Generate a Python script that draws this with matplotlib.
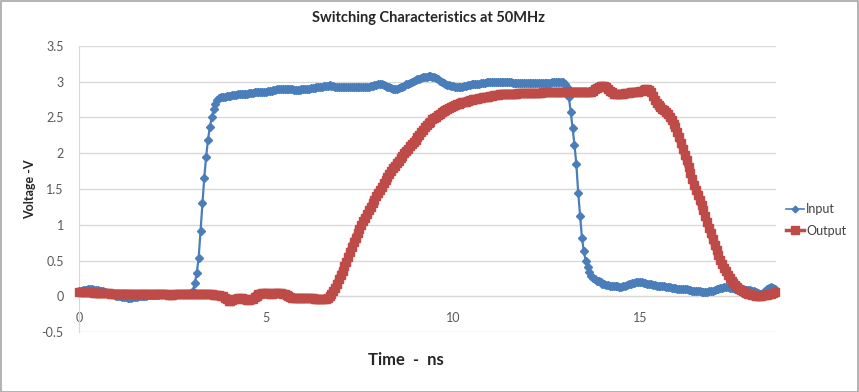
import numpy as np
import matplotlib
matplotlib.use('Agg')
import matplotlib.pyplot as plt
from matplotlib.patches import Rectangle
from matplotlib.ticker import FuncFormatter

plt.rcParams['font.family'] = ['Lato', 'DejaVu Sans']

# scope samples, one every 0.05 ns
t_step = 0.05

input_v = [
    0.08, 0.08, 0.09, 0.09, 0.09, 0.10, 0.10, 0.10, 0.09, 0.09, 0.09, 0.08, 0.08, 0.07, 0.06, 0.05, 0.04, 0.04, 0.03, 0.02,
    0.01, 0.00, 0.00, -0.01, -0.01, -0.01, -0.02, -0.02, -0.02, -0.01, -0.01, -0.01, 0.00, 0.00, 0.01, 0.01, 0.01, 0.02, 0.02, 0.02,
    0.02, 0.02, 0.02, 0.03, 0.03, 0.03, 0.03, 0.03, 0.03, 0.04, 0.04, 0.04, 0.04, 0.04, 0.03, 0.03, 0.03, 0.03, 0.03, 0.04,
    0.05, 0.08, 0.19, 0.33, 0.54, 0.92, 1.30, 1.66, 1.95, 2.19, 2.37, 2.50, 2.61, 2.69, 2.74, 2.77, 2.78, 2.79, 2.79, 2.80,
    2.80, 2.80, 2.81, 2.81, 2.81, 2.82, 2.82, 2.82, 2.83, 2.83, 2.83, 2.84, 2.84, 2.84, 2.85, 2.85, 2.85, 2.85, 2.86, 2.86,
    2.86, 2.87, 2.87, 2.87, 2.88, 2.88, 2.89, 2.89, 2.89, 2.90, 2.90, 2.90, 2.89, 2.89, 2.89, 2.88, 2.88, 2.88, 2.88, 2.89,
    2.89, 2.89, 2.90, 2.90, 2.91, 2.91, 2.91, 2.92, 2.92, 2.93, 2.93, 2.94, 2.94, 2.94, 2.95, 2.94, 2.94, 2.93, 2.93, 2.93,
    2.92, 2.92, 2.92, 2.92, 2.92, 2.92, 2.92, 2.92, 2.92, 2.92, 2.92, 2.93, 2.93, 2.93, 2.93, 2.93, 2.94, 2.94, 2.95, 2.95,
    2.96, 2.96, 2.96, 2.95, 2.94, 2.93, 2.92, 2.91, 2.90, 2.90, 2.90, 2.91, 2.92, 2.93, 2.94, 2.96, 2.97, 2.98, 2.99, 3.01,
    3.02, 3.03, 3.04, 3.05, 3.06, 3.07, 3.07, 3.08, 3.08, 3.07, 3.06, 3.05, 3.03, 3.01, 2.99, 2.98, 2.96, 2.95, 2.95, 2.94,
    2.94, 2.93, 2.93, 2.93, 2.93, 2.93, 2.94, 2.94, 2.95, 2.95, 2.96, 2.96, 2.97, 2.97, 2.97, 2.98, 2.98, 2.98, 2.99, 2.99,
    2.99, 3.00, 3.00, 3.00, 3.00, 3.00, 2.99, 2.99, 2.99, 2.99, 2.99, 2.99, 2.98, 2.98, 2.98, 2.98, 2.98, 2.98, 2.98, 2.98,
    2.98, 2.98, 2.98, 2.98, 2.98, 2.98, 2.98, 2.98, 2.98, 2.98, 2.98, 2.98, 2.98, 2.99, 2.99, 2.99, 3.00, 3.00, 3.00, 2.99,
    2.97, 2.92, 2.78, 2.58, 2.35, 2.12, 1.85, 1.45, 1.13, 0.82, 0.63, 0.50, 0.41, 0.34, 0.29, 0.26, 0.24, 0.22, 0.21, 0.20,
    0.18, 0.17, 0.16, 0.16, 0.15, 0.15, 0.14, 0.14, 0.14, 0.13, 0.13, 0.14, 0.15, 0.16, 0.17, 0.18, 0.19, 0.19, 0.20, 0.20,
    0.20, 0.20, 0.19, 0.19, 0.18, 0.18, 0.17, 0.16, 0.16, 0.15, 0.15, 0.14, 0.14, 0.14, 0.13, 0.13, 0.13, 0.12, 0.12, 0.12,
    0.11, 0.11, 0.11, 0.10, 0.10, 0.10, 0.09, 0.09, 0.08, 0.08, 0.08, 0.07, 0.07, 0.06, 0.06, 0.06, 0.06, 0.07, 0.07, 0.08,
    0.09, 0.10, 0.11, 0.12, 0.12, 0.13, 0.13, 0.13, 0.12, 0.12, 0.12, 0.11, 0.11, 0.10, 0.10, 0.10, 0.09, 0.09, 0.09, 0.09,
    0.08, 0.07, 0.06, 0.05, 0.04, 0.04, 0.05, 0.07, 0.10, 0.12, 0.13, 0.12, 0.10,
]

output_v = [
    0.06, 0.06, 0.06, 0.06, 0.06, 0.06, 0.06, 0.06, 0.05, 0.05, 0.05, 0.05, 0.05, 0.05, 0.05, 0.05, 0.05, 0.04, 0.04, 0.04,
    0.04, 0.04, 0.04, 0.04, 0.04, 0.04, 0.03, 0.03, 0.03, 0.03, 0.03, 0.03, 0.03, 0.03, 0.03, 0.03, 0.03, 0.03, 0.03, 0.03,
    0.03, 0.03, 0.03, 0.03, 0.03, 0.03, 0.03, 0.03, 0.02, 0.02, 0.02, 0.03, 0.03, 0.03, 0.03, 0.03, 0.03, 0.03, 0.03, 0.03,
    0.03, 0.03, 0.03, 0.03, 0.03, 0.03, 0.03, 0.03, 0.03, 0.03, 0.03, 0.03, 0.02, 0.02, 0.02, 0.02, 0.01, 0.00, -0.02, -0.04,
    -0.06, -0.06, -0.05, -0.04, -0.03, -0.02, -0.02, -0.02, -0.03, -0.04, -0.05, -0.05, -0.04, -0.03, -0.01, 0.01, 0.03, 0.04, 0.05, 0.05,
    0.05, 0.05, 0.04, 0.04, 0.05, 0.05, 0.05, 0.05, 0.05, 0.04, 0.03, 0.02, 0.00, -0.01, -0.02, -0.02, -0.02, -0.02, -0.02, -0.02,
    -0.02, -0.02, -0.02, -0.02, -0.02, -0.02, -0.03, -0.03, -0.04, -0.04, -0.04, -0.04, -0.03, -0.02, 0.00, 0.03, 0.07, 0.12, 0.18, 0.24,
    0.30, 0.36, 0.42, 0.48, 0.55, 0.62, 0.69, 0.76, 0.82, 0.88, 0.94, 1.00, 1.05, 1.10, 1.15, 1.20, 1.25, 1.30, 1.35, 1.40,
    1.44, 1.49, 1.53, 1.58, 1.62, 1.67, 1.71, 1.75, 1.79, 1.82, 1.86, 1.89, 1.93, 1.96, 2.00, 2.03, 2.06, 2.10, 2.13, 2.16,
    2.19, 2.23, 2.26, 2.30, 2.33, 2.36, 2.39, 2.42, 2.44, 2.47, 2.49, 2.51, 2.53, 2.55, 2.57, 2.59, 2.60, 2.62, 2.63, 2.65,
    2.66, 2.67, 2.68, 2.69, 2.70, 2.71, 2.72, 2.72, 2.73, 2.74, 2.74, 2.75, 2.76, 2.76, 2.77, 2.77, 2.78, 2.78, 2.79, 2.79,
    2.80, 2.80, 2.81, 2.81, 2.81, 2.82, 2.82, 2.82, 2.82, 2.83, 2.83, 2.83, 2.83, 2.83, 2.83, 2.84, 2.84, 2.84, 2.84, 2.84,
    2.84, 2.84, 2.84, 2.84, 2.84, 2.84, 2.84, 2.84, 2.85, 2.85, 2.85, 2.85, 2.85, 2.85, 2.85, 2.85, 2.85, 2.85, 2.85, 2.86,
    2.86, 2.86, 2.86, 2.86, 2.86, 2.86, 2.86, 2.86, 2.86, 2.86, 2.86, 2.86, 2.85, 2.85, 2.86, 2.87, 2.89, 2.91, 2.93, 2.94,
    2.94, 2.94, 2.92, 2.90, 2.87, 2.85, 2.83, 2.82, 2.82, 2.82, 2.83, 2.83, 2.84, 2.84, 2.84, 2.85, 2.85, 2.85, 2.86, 2.86,
    2.87, 2.87, 2.88, 2.89, 2.89, 2.88, 2.85, 2.80, 2.74, 2.70, 2.67, 2.64, 2.62, 2.60, 2.57, 2.54, 2.50, 2.46, 2.41, 2.36,
    2.30, 2.22, 2.14, 2.06, 1.98, 1.90, 1.81, 1.72, 1.64, 1.56, 1.49, 1.42, 1.35, 1.27, 1.20, 1.12, 1.04, 0.96, 0.88, 0.80,
    0.72, 0.65, 0.58, 0.51, 0.45, 0.40, 0.35, 0.30, 0.26, 0.22, 0.19, 0.16, 0.13, 0.11, 0.09, 0.07, 0.06, 0.05, 0.04, 0.03,
    0.02, 0.02, 0.01, 0.01, 0.01, 0.01, 0.02, 0.02, 0.02, 0.03, 0.04, 0.05, 0.06,
]

time_ns = np.arange(len(input_v)) * t_step

W, H = 859, 392
fig = plt.figure(figsize=(W / 100, H / 100), dpi=100)
ax = fig.add_axes([79 / W, 1 - 332.3 / H, (776 - 79) / W, (332.3 - 45.7) / H])

grid_c = '#d9d9d9'
text_c = '#595959'

ax.plot(time_ns, input_v, color='#4A7EBB', lw=1.6, marker='D', ms=3.8,
        label='Input', clip_on=False, zorder=3)
ax.plot(time_ns, output_v, color='#BE4B48', lw=5.6, marker='s', ms=5.8,
        label='Output', clip_on=False, zorder=4)

ax.set_xlim(0, 18.64)
ax.set_ylim(-0.5, 3.5)
ax.set_xticks([0, 5, 10, 15])
ax.set_yticks(np.arange(-0.5, 3.51, 0.5))
fmt = FuncFormatter(lambda v, p: '%g' % round(v, 2))
ax.xaxis.set_major_formatter(fmt)
ax.yaxis.set_major_formatter(fmt)

ax.grid(axis='y', color=grid_c, lw=1.0)
ax.set_axisbelow(True)
for s in ['top', 'right']:
    ax.spines[s].set_visible(False)
ax.spines['left'].set_color(grid_c)
ax.spines['bottom'].set_position(('data', 0))
ax.spines['bottom'].set_color(grid_c)
ax.tick_params(length=0, labelsize=9, labelcolor=text_c)
ax.tick_params(axis='x', pad=11)
ax.tick_params(axis='y', pad=11)

fig.text(429 / W, 1 - 18 / H, 'Switching Characteristics at 50MHz',
         ha='center', va='center', fontsize=10.5, fontweight='bold', color='#262626')
fig.text(30 / W, 1 - 189 / H, 'Voltage -V', rotation=90,
         ha='center', va='center', fontsize=9, fontweight='bold', color='#262626')
fig.text(406 / W, 1 - 360 / H, 'Time  -  ns',
         ha='center', va='center', fontsize=12, fontweight='bold', color='#262626')

# legend handles: short line with a single marker, like Excel draws them
leg = ax.legend(loc='center left', bbox_to_anchor=(786 / W, 1 - 220 / H),
                bbox_transform=fig.transFigure, frameon=False, fontsize=9,
                numpoints=1, handlelength=1.4, handletextpad=0.2, labelspacing=0.75,
                borderpad=0, borderaxespad=0, labelcolor='#404040')
leg.get_lines()[0].set_linewidth(1.2)
leg.get_lines()[0].set_markersize(3.4)
leg.get_lines()[1].set_linewidth(2.5)
leg.get_lines()[1].set_markersize(5.2)

fig.patches.append(Rectangle((0.5 / W, 0.5 / H), 1 - 1.5 / W, 1 - 1.5 / H,
                             transform=fig.transFigure, fill=False,
                             edgecolor='#a6a6a6', lw=1.2))

fig.savefig('out.png', dpi=100)
